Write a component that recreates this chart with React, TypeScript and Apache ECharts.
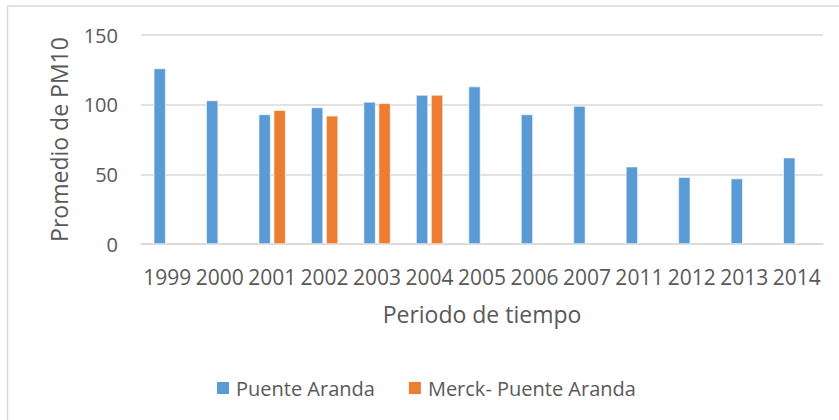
import React, { useEffect, useRef } from "react";
import * as echarts from "echarts";

const years = ["1999", "2000", "2001", "2002", "2003", "2004", "2005", "2006", "2007", "2011", "2012", "2013", "2014"];
const puenteAranda = [126, 103, 93, 98, 102, 107, 113, 93, 99, 55.5, 48, 47, 62];
const merckPuenteAranda = [null, null, 96, 92, 101, 107, null, null, null, null, null, null, null];
const yTicks = { min: 0, max: 150, interval: 50 };

const FONT = "'Open Sans', 'Noto Sans', sans-serif";
const TEXT = "#595959";
const GRID = "#d9d9d9";

export default function App() {
  const ref = useRef<HTMLDivElement>(null);
  useEffect(() => {
    if (!ref.current) return;
    const chart = echarts.init(ref.current, undefined, { renderer: "svg" });
    chart.setOption({
      animation: false,
      backgroundColor: "#fff",
      textStyle: { fontFamily: FONT },
      graphic: [
        {
          type: "rect",
          shape: { x: 7.5, y: 6, width: 845, height: 430 },
          style: { fill: "none", stroke: GRID, lineWidth: 1.5 },
          silent: true,
        },
      ],
      grid: { left: 141, right: 16, top: 35, bottom: 176, containLabel: false },
      legend: {
        left: 210,
        top: 373,
        itemWidth: 14,
        itemHeight: 14,
        itemGap: 32,
        icon: "rect",
        textStyle: { fontFamily: FONT, fontSize: 20, color: TEXT, padding: [0, 0, 0, 1] },
        data: ["Puente Aranda", "Merck- Puente Aranda"],
      },
      xAxis: {
        type: "category",
        data: years,
        axisLine: { lineStyle: { color: GRID, width: 1.5 } },
        axisTick: { show: false },
        axisLabel: { fontFamily: FONT, fontSize: 21, color: TEXT, margin: 22, interval: 0 },
        name: "Periodo de tiempo",
        nameLocation: "middle",
        nameGap: 58,
        nameTextStyle: { fontFamily: FONT, fontSize: 23, color: TEXT },
      },
      yAxis: {
        type: "value",
        min: yTicks.min,
        max: yTicks.max,
        interval: yTicks.interval,
        axisLine: { show: false },
        axisTick: { show: false },
        splitLine: { lineStyle: { color: GRID, width: 1.5 } },
        axisLabel: { fontFamily: FONT, fontSize: 20, color: TEXT, margin: 23 },
        name: "Promedio de PM10",
        nameLocation: "middle",
        nameRotate: 90,
        nameGap: 71,
        nameTextStyle: { fontFamily: FONT, fontSize: 23, color: TEXT },
      },
      series: [
        {
          name: "Puente Aranda",
          type: "bar",
          data: puenteAranda,
          barWidth: 12,
          barGap: "25%",
          itemStyle: { color: "#5B9BD5", borderColor: "#ffffff", borderWidth: 0.6 },
        },
        {
          name: "Merck- Puente Aranda",
          type: "bar",
          data: merckPuenteAranda,
          barWidth: 12,
          barGap: "25%",
          itemStyle: { color: "#ED7D31", borderColor: "#ffffff", borderWidth: 0.6 },
        },
      ],
    });
    return () => chart.dispose();
  }, []);
  return (
    <div
      ref={ref}
      style={{ position: "fixed", left: 0, top: 0, width: 839, height: 420 }}
    />
  );
}
